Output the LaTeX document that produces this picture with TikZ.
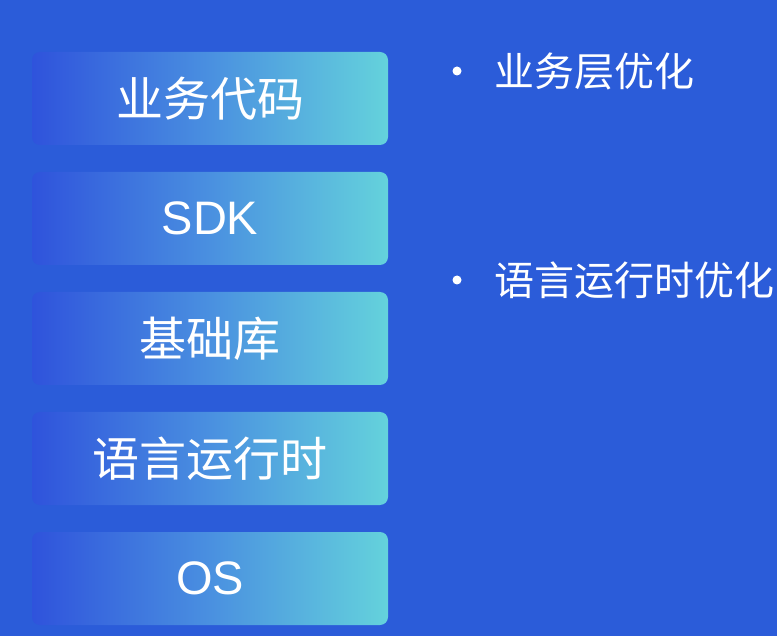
\documentclass[tikz,border=0pt]{standalone}
\usepackage{fontspec}
\setmainfont{Noto Sans CJK SC}
\newfontfamily\latinfont{Liberation Sans}
\definecolor{bgblue}{HTML}{2B5CD9}
\definecolor{boxleft}{HTML}{2F53DC}
\definecolor{boxmid}{HTML}{4A90E0}
\definecolor{boxright}{HTML}{64D2DC}
\begin{document}
\begin{tikzpicture}[x=1pt, y=-1pt]
\tikzstyle{layer}=[shape=rectangle, rounded corners=8pt, minimum width=356pt, minimum height=93pt,
  inner sep=0pt, left color=boxleft, right color=boxright, middle color=boxmid, text=white,
  font=\fontsize{47}{47}\selectfont]
\tikzstyle{point}=[anchor=west, inner sep=0pt, text=white, font=\fontsize{40}{40}\selectfont]
\fill[bgblue] (0, 0) rectangle (777, 636);
\useasboundingbox (0, 0) rectangle (777, 636);
\node[layer] (BIZ) at (210, 98.5) {业务代码};
\node[layer] (SDK) at (210, 218.5) {\latinfont SDK};
\node[layer] (LIB) at (210, 338.5) {基础库};
\node[layer] (RT) at (210, 458.5) {语言运行时};
\node[layer] (OS) at (210, 578.5) {\latinfont OS};
\node[point] (OBIZ) at (494, 71) {业务层优化};
\node[point] (ORT) at (494, 280) {语言运行时优化};
\fill[white] ([xshift=-37pt]OBIZ.west) circle (4.5pt);
\fill[white] ([xshift=-37pt]ORT.west) circle (4.5pt);
\end{tikzpicture}
\end{document}
